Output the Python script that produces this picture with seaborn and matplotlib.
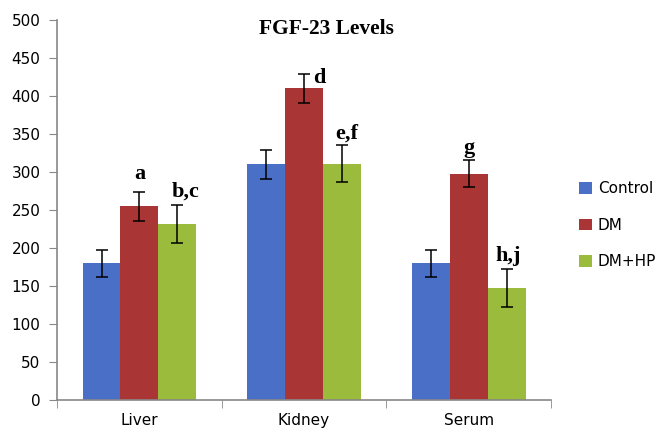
import matplotlib
matplotlib.use("Agg")
import matplotlib.pyplot as plt
import seaborn as sns
import pandas as pd
import numpy as np

tissues = ["Liver", "Kidney", "Serum"]
groups = ["Control", "DM", "DM+HP"]
control_vals = [180, 310, 180]
dm_vals = [255, 410, 298]
dmhp_vals = [231, 311, 147]
control_err = [18, 19, 18]
dm_err = [19, 19, 18]
dmhp_err = [25, 24, 25]
# significance letters (tissue, group, text)
sig_labels = [("Liver", "DM", "a"), ("Liver", "DM+HP", "b,c"),
              ("Kidney", "DM", "d"), ("Kidney", "DM+HP", "e,f"),
              ("Serum", "DM", "g"), ("Serum", "DM+HP", "h,j")]

colors = ["#4A6FC6", "#AA3535", "#9ABB3C"]

rows = []
for g, vals, errs in zip(groups, [control_vals, dm_vals, dmhp_vals],
                         [control_err, dm_err, dmhp_err]):
    for t, v, e in zip(tissues, vals, errs):
        rows.append({"Tissue": t, "Group": g, "Value": v, "Err": e})
df = pd.DataFrame(rows)

sns.set_style("white")
plt.rcParams['font.family'] = ['DejaVu Sans']
plt.rcParams['text.color'] = 'black'
plt.rcParams['xtick.labelcolor'] = 'black'
plt.rcParams['ytick.labelcolor'] = 'black'

fig = plt.figure(figsize=(6.56, 4.33), dpi=100)
ax = fig.add_axes([0.087, 0.076, 0.753, 0.878])

sns.barplot(data=df, x="Tissue", y="Value", hue="Group", order=tissues,
            hue_order=groups, palette=colors, errorbar=None, width=0.69,
            ax=ax, saturation=1, edgecolor="none")

bar_containers = list(ax.containers)
bar_pos = {}
for gi, cont in enumerate(bar_containers):
    g = groups[gi]
    for ti, patch in enumerate(cont.patches):
        t = tissues[ti]
        xc = patch.get_x() + patch.get_width() / 2
        h = patch.get_height()
        e = df[(df.Tissue == t) & (df.Group == g)].Err.values[0]
        ax.errorbar(xc, h, yerr=e, color="black", capsize=4, lw=1.1,
                    capthick=1.1, zorder=5)
        bar_pos[(t, g)] = (xc, h + e)

offsets = {"a": (0, 24), "b,c": (0.05, 18), "d": (0.09, -5), "e,f": (0.03, 16),
           "g": (0, 15), "h,j": (0.01, 18)}
for t, g, txt in sig_labels:
    xc, top = bar_pos[(t, g)]
    dx, dy = offsets[txt]
    ax.text(xc + dx, top + dy, txt, ha="center", va="center", color="black",
            fontsize=16, fontweight="bold", family="Liberation Serif")

ax.set_ylim(0, 500)
ax.set_xlim(-0.5, 2.5)
ax.set_yticks(np.arange(0, 501, 50))
ax.set_xlabel("")
ax.set_ylabel("")
ax.tick_params(axis="y", labelsize=11, length=6, color="#888888", direction="out",
               left=True, pad=6, labelcolor="black")
ax.tick_params(axis="x", labelsize=11, length=0, pad=9, labelcolor="black")
ax.set_xticks([-0.5, 0.5, 1.5, 2.5], minor=True)
ax.tick_params(axis="x", which="minor", length=6, color="#888888", direction="out", bottom=True)
for s in ["top", "right"]:
    ax.spines[s].set_visible(False)
for s in ["left", "bottom"]:
    ax.spines[s].set_color("#888888")
    ax.spines[s].set_linewidth(1.2)

ax.text(0.545, 0.975, "FGF-23 Levels", transform=ax.transAxes, ha="center",
        va="center", fontsize=15.5, fontweight="bold", family="Liberation Serif",
        color="black")

leg = ax.legend(loc="center left", bbox_to_anchor=(1.045, 0.46), frameon=False,
                fontsize=11, handlelength=0.8, handleheight=0.8,
                labelspacing=1.4, handletextpad=0.4, borderaxespad=0,
                labelcolor="black")

fig.savefig("out.png", dpi=100)
